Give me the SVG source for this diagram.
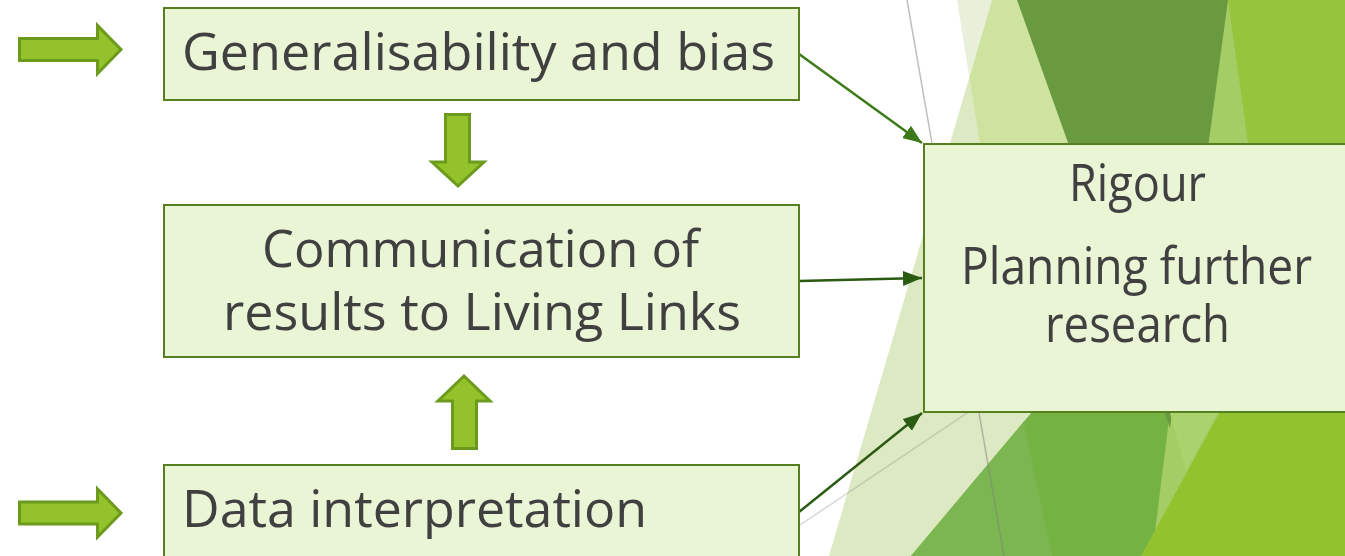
<svg xmlns="http://www.w3.org/2000/svg" width="1345" height="556" viewBox="0 0 1345 556">
<defs>
<style>
.box{fill:#e9f5d5;stroke:#587f1f;stroke-width:2}
.lbl{font-family:"Open Sans","Noto Sans","DejaVu Sans",sans-serif;font-size:52px;fill:#404040}
.blk{fill:#93c22a;stroke:#6b9a1c;stroke-width:3;stroke-linejoin:miter}
.con1{stroke:#3d7a1a;stroke-width:2.5;fill:none}
.con2{stroke:#2b5a12;stroke-width:2.5;fill:none}
</style>
<marker id="ah1" markerUnits="userSpaceOnUse" markerWidth="19" markerHeight="15" refX="19" refY="7.5" orient="auto">
<path d="M0,0 L19,7.5 L0,15 z" fill="#3d7a1a"/>
</marker>
<marker id="ah2" markerUnits="userSpaceOnUse" markerWidth="19" markerHeight="15" refX="19" refY="7.5" orient="auto">
<path d="M0,0 L19,7.5 L0,15 z" fill="#2b5a12"/>
</marker>
</defs>
<rect width="1345" height="556" fill="#ffffff"/>
<g id="background">
<polygon points="992,0 1345,0 1345,556 829,556" fill="#dde9c3"/>
<polygon points="957,0 992,0 969.4,77.8" fill="#e8f0da"/>
<polygon points="992,0 1150,0 1080,400 1021,400 969.4,77.8" fill="#cfe3a1"/>
<polygon points="1200,0 1262,0 1240,556 1120,556" fill="#a5cd65"/>
<polygon points="1228,0 1345,0 1345,450 1291,450" fill="#96c43c"/>
<polygon points="1080,355 1177,355 1152,556 911,556" fill="#75b244"/>
<polygon points="1023.8,421.6 1052,556 911,556" fill="#7bb650"/>
<polygon points="1017,0 1228,0 1170,428" fill="#6a9a40"/>
<polygon points="1170,413 1217,413 1186,472" fill="#aad26d"/>
<polygon points="1240,375 1345,375 1345,556 1141,556" fill="#93c22f"/>
<line x1="907" y1="0" x2="1004" y2="556" stroke="#808080" stroke-opacity="0.5" stroke-width="1.5"/>
<line x1="700" y1="592" x2="1100" y2="324" stroke="#808080" stroke-opacity="0.3" stroke-width="1.5"/>
</g>
<g id="block-arrows">
<polygon class="blk" points="19.5,38.5 97.5,38.5 97.5,25.5 121,49.5 97.5,73.5 97.5,60.5 19.5,60.5"/>
<polygon class="blk" points="19.5,502 97.5,502 97.5,489 121,513 97.5,537 97.5,524 19.5,524"/>
<polygon class="blk" points="445.5,114.5 469.5,114.5 469.5,162 484,162 458,186 432,162 445.5,162"/>
<polygon class="blk" points="464,376 490,401 476.5,401 476.5,448.5 452.5,448.5 452.5,401 438,401"/>
</g>
<g id="connectors">
<line class="con1" x1="799" y1="54" x2="922" y2="143" marker-end="url(#ah1)"/>
<line class="con2" x1="799" y1="281" x2="922" y2="278" marker-end="url(#ah2)"/>
<line class="con2" x1="799" y1="512" x2="922" y2="413" marker-end="url(#ah2)"/>
</g>
<g id="node-generalisability">
<rect class="box" x="164" y="8" width="635" height="92"/>
<text class="lbl" x="182" y="70" textLength="593" lengthAdjust="spacingAndGlyphs">Generalisability and bias</text>
</g>
<g id="node-communication">
<rect class="box" x="164" y="205" width="635" height="152"/>
<text class="lbl" x="262" y="267" textLength="437" lengthAdjust="spacingAndGlyphs">Communication of</text>
<text class="lbl" x="223" y="330" textLength="518" lengthAdjust="spacingAndGlyphs">results to Living Links</text>
</g>
<g id="node-data">
<rect class="box" x="164" y="465" width="635" height="120"/>
<text class="lbl" x="182" y="527" textLength="465" lengthAdjust="spacingAndGlyphs">Data interpretation</text>
</g>
<g id="node-rigour">
<rect class="box" x="924" y="144" width="440" height="268"/>
<text class="lbl" x="1069" y="201" textLength="137" lengthAdjust="spacingAndGlyphs">Rigour</text>
<text class="lbl" x="961" y="284" textLength="351" lengthAdjust="spacingAndGlyphs">Planning further</text>
<text class="lbl" x="1045" y="342" textLength="185" lengthAdjust="spacingAndGlyphs">research</text>
</g>
</svg>
